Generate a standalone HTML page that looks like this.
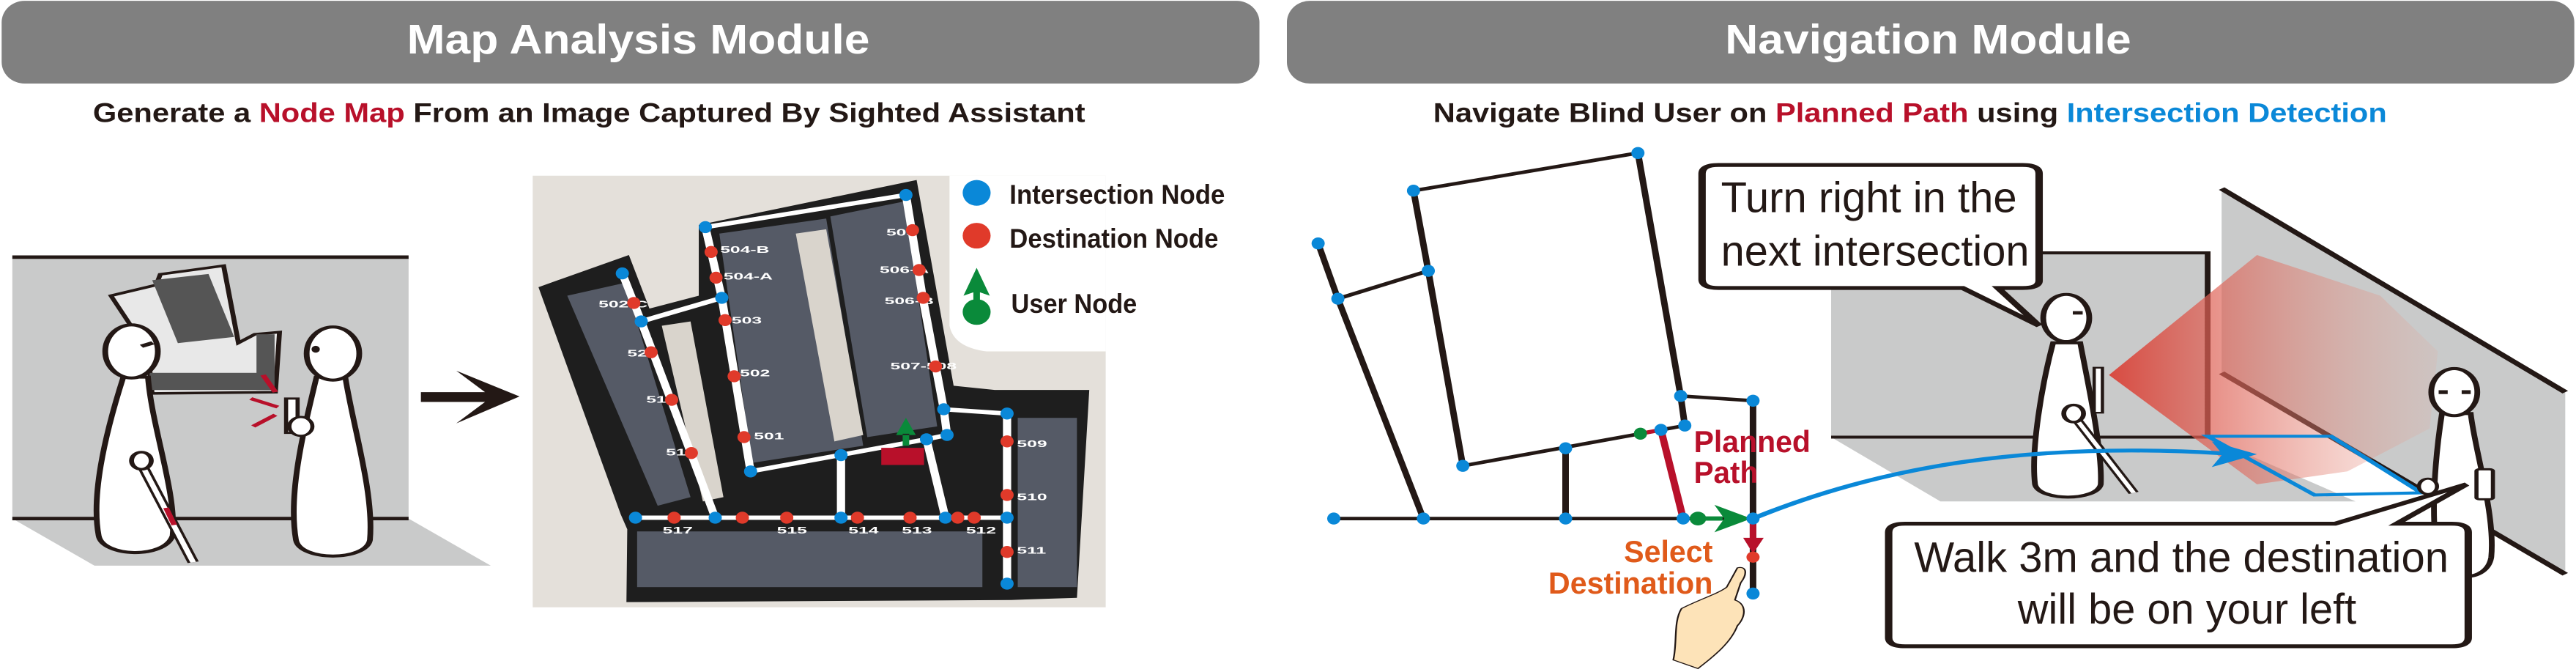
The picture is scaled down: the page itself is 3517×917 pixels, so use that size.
<!DOCTYPE html>
<html><head><meta charset="utf-8"><style>
html,body{margin:0;padding:0;background:#fff;overflow:hidden;}
svg{display:block;}
.t{font-family:"Liberation Sans Narrow","Liberation Sans",sans-serif;font-weight:bold;}
.n{font-family:"Liberation Sans Narrow","Liberation Sans",sans-serif;}
</style></head><body>
<svg width="3517" height="917" viewBox="0 0 3517 917" xmlns="http://www.w3.org/2000/svg">
<defs>
<linearGradient id="cone" x1="0" y1="0" x2="1" y2="0">
<stop offset="0" stop-color="#d9443a" stop-opacity="0.95"/>
<stop offset="1" stop-color="#e8a090" stop-opacity="0.15"/>
</linearGradient>
</defs>
<!-- LEFT PANEL -->
<g transform="scale(1.1224,0.5848)">
<rect x="2" y="2" width="1530" height="193" rx="28" ry="50" fill="#808080"/>
<text class="t" x="495" y="125" font-size="96" fill="#fff" textLength="563" lengthAdjust="spacingAndGlyphs">Map Analysis Module</text>
<text class="t" x="113" y="285" font-size="64" fill="#231815" textLength="1207" lengthAdjust="spacingAndGlyphs">Generate a <tspan fill="#b8102a">Node Map</tspan> From an Image Captured By Sighted Assistant</text>
<g>
<rect x="15" y="600" width="482" height="610" fill="#c9caca"/>
<polygon points="15,1210 497,1210 597,1320 115,1320" fill="#c9caca"/>
<line x1="15" y1="600" x2="497" y2="600" stroke="#231815" stroke-width="8"/>
<line x1="15" y1="1210" x2="497" y2="1210" stroke="#231815" stroke-width="8"/>
<polygon points="135,690 190,665 195,640 272,620 290,800 310,780 340,775 335,915 185,918 180,820" fill="#e8e8e8" stroke="#231815" stroke-width="6"/>
<rect x="200" y="645" width="70" height="150" fill="#555" transform="rotate(-12 235 720)"/>
<rect x="182" y="870" width="150" height="40" fill="#555"/>
<rect x="312" y="780" width="22" height="130" fill="#555"/>
<path d="M150,880 C130,1000 110,1150 120,1250 C125,1300 200,1305 210,1250 C215,1150 185,1000 180,880 Z" fill="#fff" stroke="#231815" stroke-width="7"/>
<ellipse cx="160" cy="820" rx="32" ry="62" fill="#fff" stroke="#231815" stroke-width="7"/>
<line x1="172" y1="808" x2="186" y2="800" stroke="#231815" stroke-width="8"/>
<line x1="170" y1="1075" x2="235" y2="1312" stroke="#231815" stroke-width="14"/>
<line x1="170" y1="1075" x2="235" y2="1312" stroke="#fff" stroke-width="7"/>
<line x1="202" y1="1185" x2="212" y2="1225" stroke="#b8102a" stroke-width="7"/>
<ellipse cx="172" cy="1075" rx="12" ry="20" fill="#fff" stroke="#231815" stroke-width="6"/>
<path d="M385,880 C370,1000 350,1150 360,1260 C365,1310 445,1310 450,1260 C455,1150 430,1000 420,880 Z" fill="#fff" stroke="#231815" stroke-width="7"/>
<ellipse cx="405" cy="825" rx="32" ry="62" fill="#fff" stroke="#231815" stroke-width="7"/>
<ellipse cx="384" cy="815" rx="5" ry="8" fill="#231815"/>
<rect x="348" y="930" width="14" height="80" fill="#fff" stroke="#231815" stroke-width="5"/>
<ellipse cx="366" cy="995" rx="14" ry="22" fill="#fff" stroke="#231815" stroke-width="5"/>
<line x1="320" y1="875" x2="335" y2="915" stroke="#b8102a" stroke-width="7"/>
<line x1="305" y1="930" x2="338" y2="950" stroke="#b8102a" stroke-width="7"/>
<line x1="308" y1="995" x2="335" y2="968" stroke="#b8102a" stroke-width="7"/>
</g>
<path d="M512,915 L590,915 L555,865 L632,925 L555,988 L590,938 L512,938 Z" fill="#231815"/>
<g>
<rect x="648" y="410" width="697" height="1007" fill="#e4e0da"/>
<path d="M1155,410 L1345,410 L1345,820 L1200,820 Q1160,810 1155,760 Z" fill="#fff"/>
<polygon points="655,670 765,595 790,720 850,690 850,525 1115,420 1160,900 1210,910 1325,910 1310,1395 1230,1400 762,1405 763,1235 755,1200" fill="#1e1e1e"/>
<polygon points="690,690 760,660 840,1160 800,1180" fill="#555a66"/>
<polygon points="875,545 1005,510 1050,1040 915,1080" fill="#555a66"/>
<polygon points="1010,505 1100,470 1140,995 1055,1020" fill="#555a66"/>
<polygon points="968,545 1005,535 1050,1015 1015,1030" fill="#d9d4cc"/>
<rect x="1238" y="975" width="72" height="395" fill="#555a66"/>
<rect x="775" y="1240" width="420" height="130" fill="#555a66"/>
<polygon points="805,760 840,750 880,1160 855,1170" fill="#d9d4cc"/>
<g fill="none" stroke="#fff" stroke-width="10" stroke-linejoin="round">
<polyline points="858,530 1102,455 1122,690 1148,955 1225,965 1225,1362"/>
<polyline points="858,530 878,695 913,1100 1127,1025 1152,1015 1148,955"/>
<polyline points="757,638 780,750 870,1208"/>
<line x1="780" y1="750" x2="878" y2="695"/>
<line x1="773" y1="1208" x2="1225" y2="1208"/>
<line x1="1023" y1="1062" x2="1023" y2="1208"/>
<line x1="1127" y1="1025" x2="1150" y2="1208"/>
</g>
<g fill="#fff" class="t" font-size="22">
<text x="1078" y="550">505</text><text x="876" y="590">504-B</text><text x="880" y="652">504-A</text>
<text x="1070" y="637">506-A</text><text x="1076" y="710">506-B</text><text x="728" y="717">502-C</text>
<text x="890" y="755">503</text><text x="1083" y="862">507-508</text><text x="763" y="832">520</text>
<text x="900" y="878">502</text><text x="786" y="940">519</text><text x="917" y="1025">501</text>
<text x="810" y="1063">518</text><text x="1237" y="1043">509</text><text x="1237" y="1167">510</text>
<text x="1237" y="1292">511</text><text x="806" y="1245">517</text><text x="945" y="1245">515</text>
<text x="1032" y="1245">514</text><text x="1097" y="1245">513</text><text x="1175" y="1245">512</text>
</g>
<g fill="#0a88d8">
<ellipse cx="1102" cy="455" rx="8" ry="14"/><ellipse cx="858" cy="530" rx="8" ry="14"/><ellipse cx="757" cy="638" rx="8" ry="14"/>
<ellipse cx="878" cy="695" rx="8" ry="14"/><ellipse cx="780" cy="750" rx="8" ry="14"/><ellipse cx="1148" cy="955" rx="8" ry="14"/>
<ellipse cx="1225" cy="965" rx="8" ry="14"/><ellipse cx="1127" cy="1025" rx="8" ry="14"/><ellipse cx="1152" cy="1015" rx="8" ry="14"/>
<ellipse cx="913" cy="1100" rx="8" ry="14"/><ellipse cx="1023" cy="1062" rx="8" ry="14"/><ellipse cx="773" cy="1208" rx="8" ry="14"/>
<ellipse cx="870" cy="1208" rx="8" ry="14"/><ellipse cx="1023" cy="1208" rx="8" ry="14"/><ellipse cx="1150" cy="1208" rx="8" ry="14"/>
<ellipse cx="1225" cy="1208" rx="8" ry="14"/><ellipse cx="1225" cy="1362" rx="8" ry="14"/>
</g>
<g fill="#e03a2a">
<ellipse cx="1110" cy="537" rx="8" ry="14"/><ellipse cx="865" cy="588" rx="8" ry="14"/><ellipse cx="871" cy="648" rx="8" ry="14"/>
<ellipse cx="1118" cy="630" rx="8" ry="14"/><ellipse cx="1123" cy="695" rx="8" ry="14"/><ellipse cx="771" cy="707" rx="8" ry="14"/>
<ellipse cx="882" cy="747" rx="8" ry="14"/><ellipse cx="1138" cy="855" rx="8" ry="14"/><ellipse cx="792" cy="822" rx="8" ry="14"/>
<ellipse cx="893" cy="878" rx="8" ry="14"/><ellipse cx="817" cy="933" rx="8" ry="14"/><ellipse cx="905" cy="1020" rx="8" ry="14"/>
<ellipse cx="841" cy="1057" rx="8" ry="14"/><ellipse cx="1225" cy="1030" rx="8" ry="14"/><ellipse cx="1225" cy="1155" rx="8" ry="14"/>
<ellipse cx="1225" cy="1288" rx="8" ry="14"/><ellipse cx="820" cy="1208" rx="8" ry="14"/><ellipse cx="903" cy="1208" rx="8" ry="14"/>
<ellipse cx="957" cy="1208" rx="8" ry="14"/><ellipse cx="1043" cy="1208" rx="8" ry="14"/><ellipse cx="1107" cy="1208" rx="8" ry="14"/>
<ellipse cx="1165" cy="1208" rx="8" ry="14"/><ellipse cx="1185" cy="1208" rx="8" ry="14"/>
</g>
<path d="M1102,975 L1090,1015 L1114,1015 Z M1098,1012 L1106,1012 L1106,1040 L1098,1040Z" fill="#0a8a3a"/>
<rect x="1072" y="1045" width="52" height="40" fill="#b8102a"/>
</g>
<g>
<ellipse cx="1188" cy="450" rx="17" ry="30" fill="#0a88d8"/>
<text class="t" x="1228" y="475" font-size="64" fill="#231815" textLength="262" lengthAdjust="spacingAndGlyphs">Intersection Node</text>
<ellipse cx="1188" cy="550" rx="17" ry="30" fill="#e03a2a"/>
<text class="t" x="1228" y="578" font-size="64" fill="#231815" textLength="254" lengthAdjust="spacingAndGlyphs">Destination Node</text>
<path d="M1188,625 L1172,690 L1184,682 L1184,700 L1192,700 L1192,682 L1204,690 Z" fill="#0a8a3a"/>
<ellipse cx="1188" cy="728" rx="17" ry="30" fill="#0a8a3a"/>
<text class="t" x="1230" y="730" font-size="64" fill="#231815" textLength="153" lengthAdjust="spacingAndGlyphs">User Node</text>
</g>
</g>
<!-- RIGHT PANEL -->
<g transform="translate(1757,0) scale(1.1224,0.5848)">
<rect x="0" y="2" width="1566" height="193" rx="28" ry="50" fill="#808080"/>
<text class="t" x="533" y="125" font-size="96" fill="#fff" textLength="494" lengthAdjust="spacingAndGlyphs">Navigation Module</text>
<text class="t" x="178" y="285" font-size="64" fill="#231815" textLength="1160" lengthAdjust="spacingAndGlyphs">Navigate Blind User on <tspan fill="#b8102a">Planned Path</tspan> using <tspan fill="#0a88d8">Intersection Detection</tspan></text>
<g>
<rect x="662" y="590" width="458" height="430" fill="#c9caca"/>
<polygon points="662,1020 1120,1020 1300,1170 795,1170" fill="#c9caca"/>
<polygon points="1137,440 1555,915 1555,1340 1137,870" fill="#c9caca"/>
<polyline points="905,590 1120,590 1120,1020" fill="none" stroke="#231815" stroke-width="7"/>
<line x1="662" y1="1020" x2="1120" y2="1020" stroke="#231815" stroke-width="7"/>
<line x1="1137" y1="440" x2="1555" y2="915" stroke="#231815" stroke-width="9"/>
<line x1="1137" y1="870" x2="1555" y2="1340" stroke="#231815" stroke-width="9"/>
<polygon points="1000,875 1180,595 1330,690 1400,820 1390,1000 1290,1100 1180,1130" fill="url(#cone)"/>
<path d="M932,800 C918,900 905,1050 910,1130 C915,1170 985,1170 990,1130 C992,1050 975,900 965,800 Z" fill="#fff" stroke="#231815" stroke-width="7"/>
<ellipse cx="948" cy="742" rx="28" ry="55" fill="#fff" stroke="#231815" stroke-width="7"/>
<line x1="956" y1="730" x2="968" y2="730" stroke="#231815" stroke-width="8"/>
<line x1="955" y1="965" x2="1030" y2="1150" stroke="#231815" stroke-width="13"/>
<line x1="955" y1="965" x2="1030" y2="1150" stroke="#fff" stroke-width="6"/>
<ellipse cx="957" cy="965" rx="12" ry="20" fill="#fff" stroke="#231815" stroke-width="6"/>
<rect x="982" y="858" width="10" height="105" fill="#fff" stroke="#231815" stroke-width="4"/>
<polygon points="1120,1018 1270,1018 1380,1150 1250,1155" fill="none" stroke="#0a88d8" stroke-width="7"/>
<path d="M1405,965 C1398,1050 1390,1200 1400,1300 C1410,1360 1460,1360 1465,1300 C1470,1200 1445,1050 1440,965 Z" fill="#fff" stroke="#231815" stroke-width="7"/>
<ellipse cx="1420" cy="915" rx="28" ry="55" fill="#fff" stroke="#231815" stroke-width="7"/>
<line x1="1401" y1="915" x2="1412" y2="915" stroke="#231815" stroke-width="9"/>
<line x1="1429" y1="915" x2="1440" y2="915" stroke="#231815" stroke-width="9"/>
<ellipse cx="1388" cy="1135" rx="11" ry="18" fill="#fff" stroke="#231815" stroke-width="5"/>
<rect x="1447" y="1095" width="20" height="70" rx="4" fill="#fff" stroke="#231815" stroke-width="5"/>
</g>
<path d="M567,1210 C720,1090 900,1030 1140,1058" fill="none" stroke="#0a88d8" stroke-width="9"/>
<polygon points="1125,1030 1180,1060 1125,1090 1138,1060" fill="#0a88d8"/>
<g fill="none" stroke="#231815" stroke-width="8" stroke-linejoin="round">
<polyline points="154,445 427,357 479,924 484,993"/>
<polyline points="154,445 172,632 214,1087"/>
<line x1="62" y1="697" x2="172" y2="632"/>
<polyline points="38,568 62,697 166,1210"/>
<polyline points="214,1087 430,1012 484,993"/>
<polyline points="479,924 567,935 567,1385"/>
<line x1="339" y1="1046" x2="339" y2="1210"/>
<line x1="57" y1="1210" x2="567" y2="1210"/>
</g>
<line x1="455" y1="1003" x2="482" y2="1210" stroke="#b8102a" stroke-width="9"/>
<line x1="430" y1="1012" x2="455" y2="1003" stroke="#b8102a" stroke-width="9"/>
<line x1="567" y1="1215" x2="567" y2="1265" stroke="#b8102a" stroke-width="8"/>
<polygon points="555,1255 580,1255 567,1292" fill="#b8102a"/>
<line x1="495" y1="1210" x2="530" y2="1210" stroke="#0a8a3a" stroke-width="10"/>
<polygon points="520,1178 565,1210 520,1242 532,1210" fill="#0a8a3a"/>
<ellipse cx="500" cy="1210" rx="10" ry="16" fill="#0a8a3a"/>
<g fill="#0a88d8">
<ellipse cx="427" cy="357" rx="8" ry="14"/><ellipse cx="154" cy="445" rx="8" ry="14"/><ellipse cx="38" cy="568" rx="8" ry="14"/>
<ellipse cx="172" cy="632" rx="8" ry="14"/><ellipse cx="62" cy="697" rx="8" ry="14"/><ellipse cx="214" cy="1087" rx="8" ry="14"/>
<ellipse cx="479" cy="924" rx="8" ry="14"/><ellipse cx="567" cy="935" rx="8" ry="14"/><ellipse cx="484" cy="993" rx="8" ry="14"/>
<ellipse cx="455" cy="1003" rx="8" ry="14"/><ellipse cx="339" cy="1046" rx="8" ry="14"/><ellipse cx="57" cy="1210" rx="8" ry="14"/>
<ellipse cx="166" cy="1210" rx="8" ry="14"/><ellipse cx="339" cy="1210" rx="8" ry="14"/><ellipse cx="482" cy="1210" rx="8" ry="14"/>
<ellipse cx="567" cy="1210" rx="8" ry="14"/><ellipse cx="567" cy="1385" rx="8" ry="14"/>
</g>
<ellipse cx="430" cy="1012" rx="8" ry="14" fill="#0a8a3a"/>
<ellipse cx="567" cy="1300" rx="8" ry="13" fill="#e03a2a"/>
<text class="t" font-size="72" fill="#b8102a"><tspan x="495" y="1055" textLength="142" lengthAdjust="spacingAndGlyphs">Planned</tspan><tspan x="495" y="1127" textLength="78" lengthAdjust="spacingAndGlyphs">Path</tspan></text>
<text class="t" font-size="72" fill="#e05a1a"><tspan x="410" y="1312" textLength="108" lengthAdjust="spacingAndGlyphs">Select</tspan><tspan x="318" y="1385" textLength="200" lengthAdjust="spacingAndGlyphs">Destination</tspan></text>
<path d="M548,1325 C560,1320 560,1340 552,1360 L545,1400 C560,1410 558,1440 548,1460 C540,1500 520,1530 500,1560 L470,1540 C475,1500 470,1450 480,1420 C500,1400 525,1385 535,1370 Z" fill="#fde3b8" stroke="#231815" stroke-width="2"/>
<path d="M525,385 L895,385 Q915,385 915,405 L915,655 Q915,672 895,672 L865,672 L915,760 L822,672 L525,672 Q505,672 505,652 L505,405 Q505,385 525,385 Z" fill="#fff" stroke="#231815" stroke-width="9"/>
<text class="n" font-size="100" fill="#231815"><tspan x="528" y="495" textLength="360" lengthAdjust="spacingAndGlyphs">Turn right in the</tspan><tspan x="528" y="620" textLength="375" lengthAdjust="spacingAndGlyphs">next intersection</tspan></text>
<path d="M752,1222 L1275,1222 L1435,1130 L1350,1222 L1417,1222 Q1437,1222 1437,1242 L1437,1488 Q1437,1508 1417,1508 L752,1508 Q732,1508 732,1488 L732,1242 Q732,1222 752,1222 Z" fill="#fff" stroke="#231815" stroke-width="9"/>
<text class="n" font-size="100" fill="#231815"><tspan x="763" y="1335" textLength="650" lengthAdjust="spacingAndGlyphs">Walk 3m and the destination</tspan><tspan x="889" y="1455" textLength="412" lengthAdjust="spacingAndGlyphs">will be on your left</tspan></text>
</g>
</svg>
</body></html>
